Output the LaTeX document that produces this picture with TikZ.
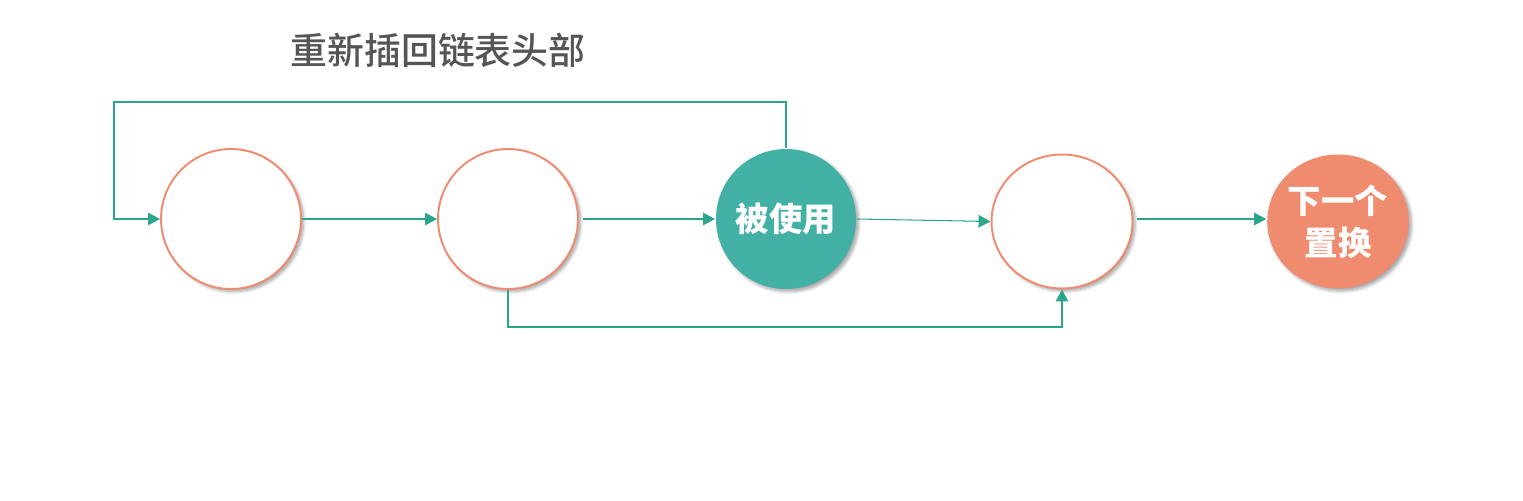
\documentclass[tikz,border=0pt]{standalone}
\usepackage{fontspec}
\newfontfamily\cjk{Noto Sans CJK SC}
\newfontfamily\cjkmed{Noto Sans CJK SC Medium}
\usetikzlibrary{arrows.meta,shadows.blur,shapes.geometric}
\definecolor{teal}{HTML}{2CA58D}
\definecolor{tealfill}{HTML}{43B0A5}
\definecolor{salmon}{HTML}{EF8C70}
\definecolor{titlegray}{HTML}{555555}

\begin{document}
\begin{tikzpicture}[x=0.02cm, y=-0.02cm,
	page/.style={circle, minimum size=2.8cm, inner sep=0pt, line width=1.1pt,
		blur shadow={shadow blur steps=6, shadow xshift=1.5pt, shadow yshift=-1.5pt, shadow opacity=35}},
	flatpage/.style={page, ellipse, minimum width=2.82cm, minimum height=2.68cm},
	emptypage/.style={draw=salmon, fill=white},
	usedpage/.style={page, fill=tealfill, text=white, font=\cjk\bfseries\fontsize{19}{23}\selectfont},
	nextpage/.style={flatpage, fill=salmon, text=white, align=center, font=\cjk\bfseries\fontsize{19}{24}\selectfont},
	link/.style={draw=teal, line width=0.6pt, -{Triangle[length=0.24cm,width=0.25cm]}}]
			%%%%% START %%%%%
			
			\useasboundingbox (0, 0) rectangle (1523, 500);
			
			\node[font=\cjkmed\fontsize{21}{25}\selectfont, text=titlegray] (title) at (438, 50) {重新插回链表头部};
			
			\node[page, emptypage] (n1) at (231, 219) {};
			\node[page, emptypage] (n2) at (508, 219) {};
			\node[usedpage] (used) at (786, 219) {被使用};
			\node[flatpage, emptypage] (n4) at (1062, 221.5) {};
			\node[nextpage] (next) at (1338, 221.5) {下一个\\置换};
			
			\coordinate (topcorner) at (114, 102);
			\coordinate (lowcorner) at (1062, 327);
			
			\draw[link] (n1.east) -- (n2.west);
			\draw[link, shorten <=0.08cm] (n2.east) -- (used.west);
			\draw[link] (used.east) -- (n4.west);
			\draw[link, shorten <=0.08cm] (n4.east |- n1.east) -- (next.west |- n1.east);
			
			\draw[link] (used.north) |- (topcorner) |- (n1.west);
			\draw[link] (n2.south) |- (lowcorner) -- (n4.south);
			
			%%%%% END %%%%%
\end{tikzpicture}
\end{document}
